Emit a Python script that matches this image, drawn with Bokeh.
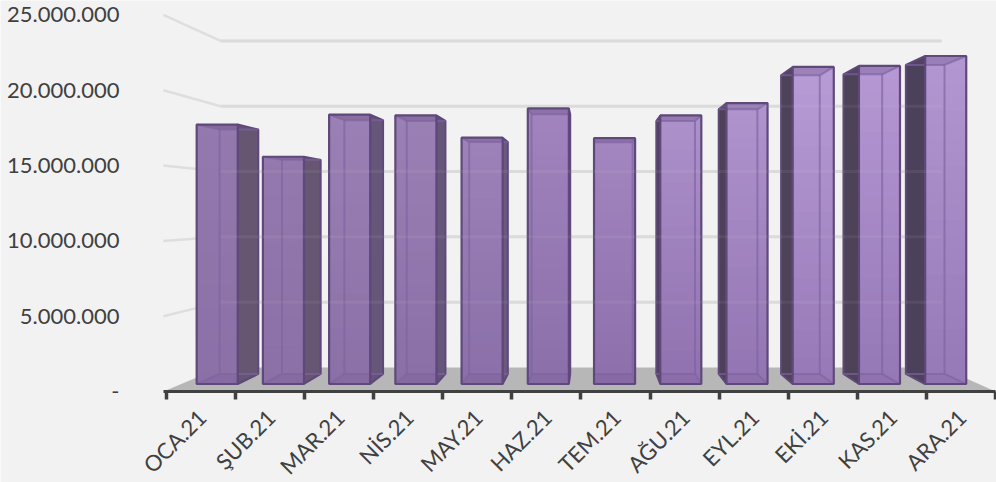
from bokeh.plotting import figure
from bokeh.models import FixedTicker, LinearAxis, LabelSet, ColumnDataSource
from bokeh.core.properties import value
from bokeh.embed import file_html
from bokeh.resources import INLINE

months = ["OCA.21", "ŞUB.21", "MAR.21", "NİS.21", "MAY.21", "HAZ.21",
          "TEM.21", "AĞU.21", "EYL.21", "EKİ.21", "KAS.21", "ARA.21"]
values = [17970000, 15740000, 18660000, 18600000, 17060000, 19090000,
          17030000, 18600000, 19460000, 21960000, 22030000, 22720000]
y_ticks = [0, 5000000, 10000000, 15000000, 20000000, 25000000]
y_labels = ["-", "5.000.000", "10.000.000", "15.000.000", "20.000.000", "25.000.000"]

front_top = ["#9379ad", "#9379ad", "#9a80b4", "#9a80b4", "#9c82b8", "#a184bd",
             "#a386c0", "#ad91cb", "#b094ce", "#b79cd6", "#b598d4", "#b397d2"]
front_bot = ["#8a70a6", "#8a70a6", "#8a70a6", "#8a6fa7", "#8a6fa8", "#8b6fa9",
             "#8c6fab", "#8e71ae", "#9174b1", "#9678b6", "#9477b5", "#9579b7"]
side_col = ["#665672", "#665672", "#66567a", "#66567a", "#6a5a80", "#6a5a80",
            "#6a5a80", "#4f4260", "#4d4058", "#4d4258", "#4d4258", "#4c415a"]
EDGE = "#5f497a"
INNER = "#7e62a0"

VP_X, VP_Y = 6.165, 12020000.0   # vanishing point, in data units
S_FRONT, S_BACK = 0.9586, 0.903  # depth scale of bar faces
S_WALL = 0.867                   # depth scale of the back wall
BAR_W = 0.62
WALL_X = -0.0434


def proj(x, v, s):
    return VP_X + (x - VP_X) * s, VP_Y + (v - VP_Y) * s


def hexmix(a, b, t):
    ca = [int(a[i:i + 2], 16) for i in (1, 3, 5)]
    cb = [int(b[i:i + 2], 16) for i in (1, 3, 5)]
    return "#%02x%02x%02x" % tuple(round(p + (q - p) * t) for p, q in zip(ca, cb))


n = len(months)
p = figure(width=996, height=482, x_range=(-2.402, 12.0145),
           y_range=(-6042000, 25961000), toolbar_location=None, output_backend="svg",
           x_axis_type=None, y_axis_type=None,
           min_border_left=0, min_border_right=0, min_border_top=0, min_border_bottom=0)
p.background_fill_color = "#f2f2f2"
p.border_fill_color = "#f2f2f2"
p.outline_line_color = None
p.grid.visible = False

# floor
fx, fy = zip(*[proj(WALL_X, 0, 1), proj(12, 0, 1), proj(12, 0, S_WALL), proj(WALL_X, 0, S_WALL)])
p.patch(list(fx), list(fy), fill_color="#b7b7b7", line_color=None)

# gridlines: left wall and back wall
gx, gy = [], []
bx, by = [], []
for v in y_ticks[1:]:
    x0, y0 = proj(WALL_X, v, 1)
    x1, y1 = proj(WALL_X, v, S_WALL)
    x2, y2 = proj(12, v, S_WALL)
    gx.append([x0, x1])
    gy.append([y0, y1])
    bx.append([x1, x2])
    by.append([y1, y2])
p.multi_line(gx, gy, line_color="#dedede", line_width=2.5)
p.multi_line(bx, by, line_color="#dcdcdc", line_width=3)

# bars
for i, (val, top, bot, side) in enumerate(zip(values, front_top, front_bot, side_col)):
    c = i + 0.5
    l, r = c - BAR_W / 2, c + BAR_W / 2
    # visible outer side
    xe = r if c < VP_X else l
    if abs(c - VP_X) > 0.5:
        q = [proj(xe, 0, S_FRONT), proj(xe, 0, S_BACK), proj(xe, val, S_BACK), proj(xe, val, S_FRONT)]
        p.patch([a[0] for a in q], [a[1] for a in q], fill_color=side, line_color=EDGE, line_width=2)
    # front face: overlapping rectangles for the vertical shading, no seams
    strips = 24
    sx, sy, sc = [], [], []
    for k in range(strips):
        v0 = val * k / strips
        q = [proj(l, v0, S_FRONT), proj(r, v0, S_FRONT), proj(r, val, S_FRONT), proj(l, val, S_FRONT)]
        sx.append([a[0] for a in q])
        sy.append([a[1] for a in q])
        sc.append(hexmix(bot, top, (k + 0.5) / strips))
    p.patches(sx, sy, fill_color=sc, line_color=None)
    # band of the top seen from below
    q = [proj(l, val, S_FRONT), proj(r, val, S_FRONT), proj(r, val, S_BACK), proj(l, val, S_BACK)]
    p.patch([a[0] for a in q], [a[1] for a in q], fill_color=EDGE, fill_alpha=0.3, line_color=None)
    q = [proj(l, 0, S_FRONT), proj(r, 0, S_FRONT), proj(r, 0, S_BACK), proj(l, 0, S_BACK)]
    p.patch([a[0] for a in q], [a[1] for a in q], fill_color=EDGE, fill_alpha=0.1, line_color=None)
    # back edges seen through the front
    ex, ey = [], []
    inner_x = r if c >= VP_X else l
    for a, b in [(proj(l, 0, S_BACK), proj(r, 0, S_BACK)),
                 (proj(inner_x, 0, S_BACK), proj(inner_x, val, S_BACK)),
                 (proj(l, val, S_BACK), proj(r, val, S_BACK)),
                 (proj(inner_x, 0, S_FRONT), proj(inner_x, 0, S_BACK)),
                 (proj(inner_x, val, S_FRONT), proj(inner_x, val, S_BACK))]:
        ex.append([a[0], b[0]])
        ey.append([a[1], b[1]])
    p.multi_line(ex, ey, line_color=INNER, line_width=2, line_alpha=0.65)
    # front outline
    q = [proj(l, 0, S_FRONT), proj(r, 0, S_FRONT), proj(r, val, S_FRONT), proj(l, val, S_FRONT)]
    p.patch([a[0] for a in q], [a[1] for a in q], fill_alpha=0, line_color=EDGE, line_width=2.2)

# gridlines faintly through the bars
p.multi_line(bx, by, line_color="#dcdcdc", line_width=3, line_alpha=0.08)

# axes
left = LinearAxis(ticker=FixedTicker(ticks=y_ticks), fixed_location=WALL_X,
                  major_label_overrides=dict(zip(y_ticks, y_labels)))
left.axis_line_color = None
left.major_tick_line_color = None
left.minor_tick_line_color = None
left.major_label_standoff = 38
left.major_label_text_font = "Lato"
left.major_label_text_font_size = "22px"
left.major_label_text_color = "#404040"
p.add_layout(left, "left")

below = LinearAxis(ticker=FixedTicker(ticks=[], minor_ticks=list(range(n + 1))),
                   fixed_location=0, bounds=(WALL_X, 12))
below.axis_line_color = "#404040"
below.axis_line_width = 3
below.major_tick_line_color = None
below.minor_tick_line_color = "#404040"
below.minor_tick_line_width = 3.5
below.minor_tick_out = 8
below.minor_tick_in = 0
p.add_layout(below, "below")

src = ColumnDataSource(dict(x=[i + 0.5 for i in range(n)], y=[0] * n, t=months))
p.add_layout(LabelSet(x="x", y="y", text="t", source=src, angle=0.785,
                      text_align="right", text_baseline="middle",
                      x_offset=1, y_offset=-22,
                      text_font=value("Lato"), text_font_size="22px", text_color="#404040"))

html = file_html(p, INLINE)
open("out.html", "w", encoding="utf-8").write(html)
